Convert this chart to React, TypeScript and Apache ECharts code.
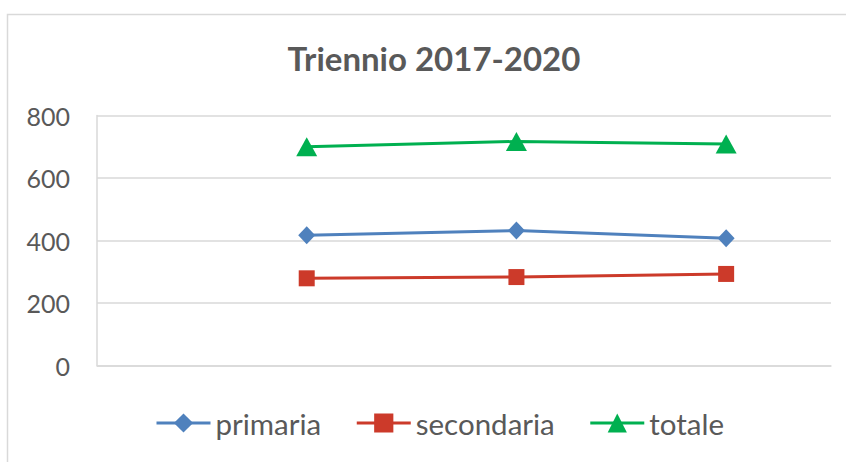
import React, { useEffect, useRef } from "react";
import * as echarts from "echarts";

const title = "Triennio 2017-2020";
const categories = ["2017-2018", "2018-2019", "2019-2020"];
const primaria = [417, 432, 407];
const secondaria = [279, 283, 293];
const totale = [700, 717, 709];
const yTicks = [0, 200, 400, 600, 800];

const toPoints = (vals: number[]) => vals.map((v, i) => [i + 1, v]);

export default function App() {
  const ref = useRef<HTMLDivElement>(null);
  useEffect(() => {
    if (!ref.current) return;
    const chart = echarts.init(ref.current, undefined, { renderer: "svg" });
    const font = "Lato, 'Noto Sans', sans-serif";
    chart.setOption({
      animation: false,
      backgroundColor: "#ffffff",
      textStyle: { fontFamily: font },
      graphic: [
        {
          type: "rect",
          shape: { x: 7.5, y: 14.5, width: 900, height: 500 },
          style: { fill: "none", stroke: "#D9D9D9", lineWidth: 1.5 },
          silent: true,
        },
        {
          type: "text",
          x: 434,
          y: 58,
          style: {
            text: title,
            fontFamily: font,
            fontSize: 33,
            fontWeight: "bold",
            fill: "#595959",
            textAlign: "center",
            textVerticalAlign: "middle",
          },
        },
      ],
      grid: { left: 97, right: 15, top: 115.5, bottom: 96.5, containLabel: false },
      xAxis: {
        type: "value",
        min: 0,
        max: categories.length + 0.5,
        axisLine: { show: true, lineStyle: { color: "#D9D9D9", width: 1.5 } },
        axisTick: { show: false },
        axisLabel: { show: false },
        splitLine: { show: false },
      },
      yAxis: {
        type: "value",
        min: yTicks[0],
        max: yTicks[yTicks.length - 1],
        interval: 200,
        axisLine: { show: true, lineStyle: { color: "#D9D9D9", width: 1.5 } },
        axisTick: { show: false },
        axisLabel: {
          color: "#595959",
          fontSize: 25,
          fontFamily: font,
          margin: 27,
        },
        splitLine: { show: true, lineStyle: { color: "#D9D9D9", width: 1.5 } },
      },
      legend: {
        left: 150,
        top: 403,
        itemWidth: 54,
        itemHeight: 24,
        itemGap: 34,
        lineStyle: { width: 3 },
        textStyle: { color: "#595959", fontSize: 29.5, fontFamily: font, lineHeight: 30 },
        data: ["primaria", "secondaria", "totale"],
      },
      series: [
        {
          name: "primaria",
          type: "line",
          data: toPoints(primaria),
          symbol: "diamond",
          symbolSize: [17, 18],
          lineStyle: { color: "#4F81BD", width: 3 },
          itemStyle: { color: "#4F81BD" },
        },
        {
          name: "secondaria",
          type: "line",
          data: toPoints(secondaria),
          symbol: "rect",
          symbolSize: 16,
          lineStyle: { color: "#CC3A2A", width: 3 },
          itemStyle: { color: "#CC3A2A" },
        },
        {
          name: "totale",
          type: "line",
          data: toPoints(totale),
          symbol: "triangle",
          symbolSize: [21, 19],
          lineStyle: { color: "#00B050", width: 3 },
          itemStyle: { color: "#00B050" },
        },
      ],
    });
    return () => chart.dispose();
  }, []);
  return (
    <div
      ref={ref}
      style={{ position: "fixed", left: 0, top: 0, width: 846, height: 462 }}
    />
  );
}
